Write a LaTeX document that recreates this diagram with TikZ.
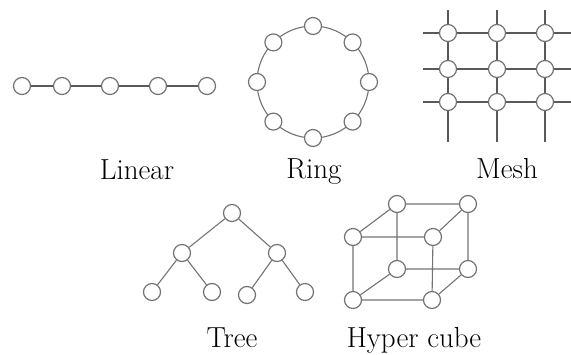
\documentclass[tikz,border=0pt]{standalone}
\usetikzlibrary{calc}
\begin{document}
\begin{tikzpicture}[x=1pt,y=-1pt,
  nd/.style={circle, draw=black!55, fill=white, line width=1.2pt, minimum size=17pt, inner sep=0pt},
  ln/.style={draw=black!65, line width=1.4pt},
  lnl/.style={draw=black!55, line width=1.1pt},
  lbl/.style={font=\fontsize{29}{34}\selectfont, text=black, inner sep=0pt, anchor=base}]
\useasboundingbox (0,0) rectangle (571,354);

% Linear array
\foreach \i/\x in {1/22,2/62,3/110,4/158,5/207}
  \node[nd] (l\i) at (\x,86) {};
\foreach \a/\b in {1/2,2/3,3/4,4/5}
  \draw[ln] (l\a) -- (l\b);
\node[lbl] (tlin) at (137,179) {Linear};

% Ring
\coordinate (rc) at (313,82);
\draw[lnl] (rc) circle[radius=56pt];
\foreach \k in {0,...,7}
  \node[nd] (r\k) at ($(rc)+(90-45*\k:56pt)$) {};
\node[lbl] (tring) at (314,178) {Ring};

% Mesh: grid lines first, nodes on top
\foreach \c/\x in {1/448,2/497,3/545}
  \foreach \r/\y in {1/33,2/69,3/102}
    \coordinate (m\r\c) at (\x,\y);
\foreach \c/\x in {1/448,2/497,3/545} {
  \coordinate (mt\c) at (\x,10);
  \coordinate (mb\c) at (\x,142);
  \draw[ln] (mt\c) -- (mb\c);
}
\foreach \r/\y in {1/33,2/69,3/102} {
  \coordinate (ml\r) at (423,\y);
  \coordinate (mr\r) at (571,\y);
  \draw[ln] (ml\r) -- (mr\r);
}
\foreach \c in {1,2,3}
  \foreach \r in {1,2,3}
    \node[nd] (mn\r\c) at (m\r\c) {};
\node[lbl] (tmesh) at (507,178) {Mesh};

% Tree
\node[nd] (t0) at (232,213) {};
\node[nd] (t1) at (182,253) {};
\node[nd] (t2) at (277,253) {};
\node[nd] (t3) at (152,292) {};
\node[nd] (t4) at (212,292) {};
\node[nd] (t5) at (247,295) {};
\node[nd] (t6) at (305,292) {};
\draw[lnl] (t0) -- (t1) (t0) -- (t2) (t1) -- (t3) (t1) -- (t4) (t2) -- (t5) (t2) -- (t6);
\node[lbl] (ttree) at (232,347) {Tree};

% Hypercube
\node[nd] (c1) at (397,204) {};
\node[nd] (c2) at (468,204) {};
\node[nd] (c3) at (353,237) {};
\node[nd] (c4) at (433,237) {};
\node[nd] (c5) at (397,269) {};
\node[nd] (c6) at (468,269) {};
\node[nd] (c7) at (353,300) {};
\node[nd] (c8) at (432,300) {};
\draw[lnl] (c1) -- (c2) (c3) -- (c4) (c5) -- (c6) (c7) -- (c8)
           (c1) -- (c5) (c2) -- (c6) (c3) -- (c7) (c4) -- (c8)
           (c1) -- (c3) (c2) -- (c4) (c5) -- (c7) (c6) -- (c8);
\node[lbl] (tcube) at (414,347) {Hyper cube};
\end{tikzpicture}
\end{document}
